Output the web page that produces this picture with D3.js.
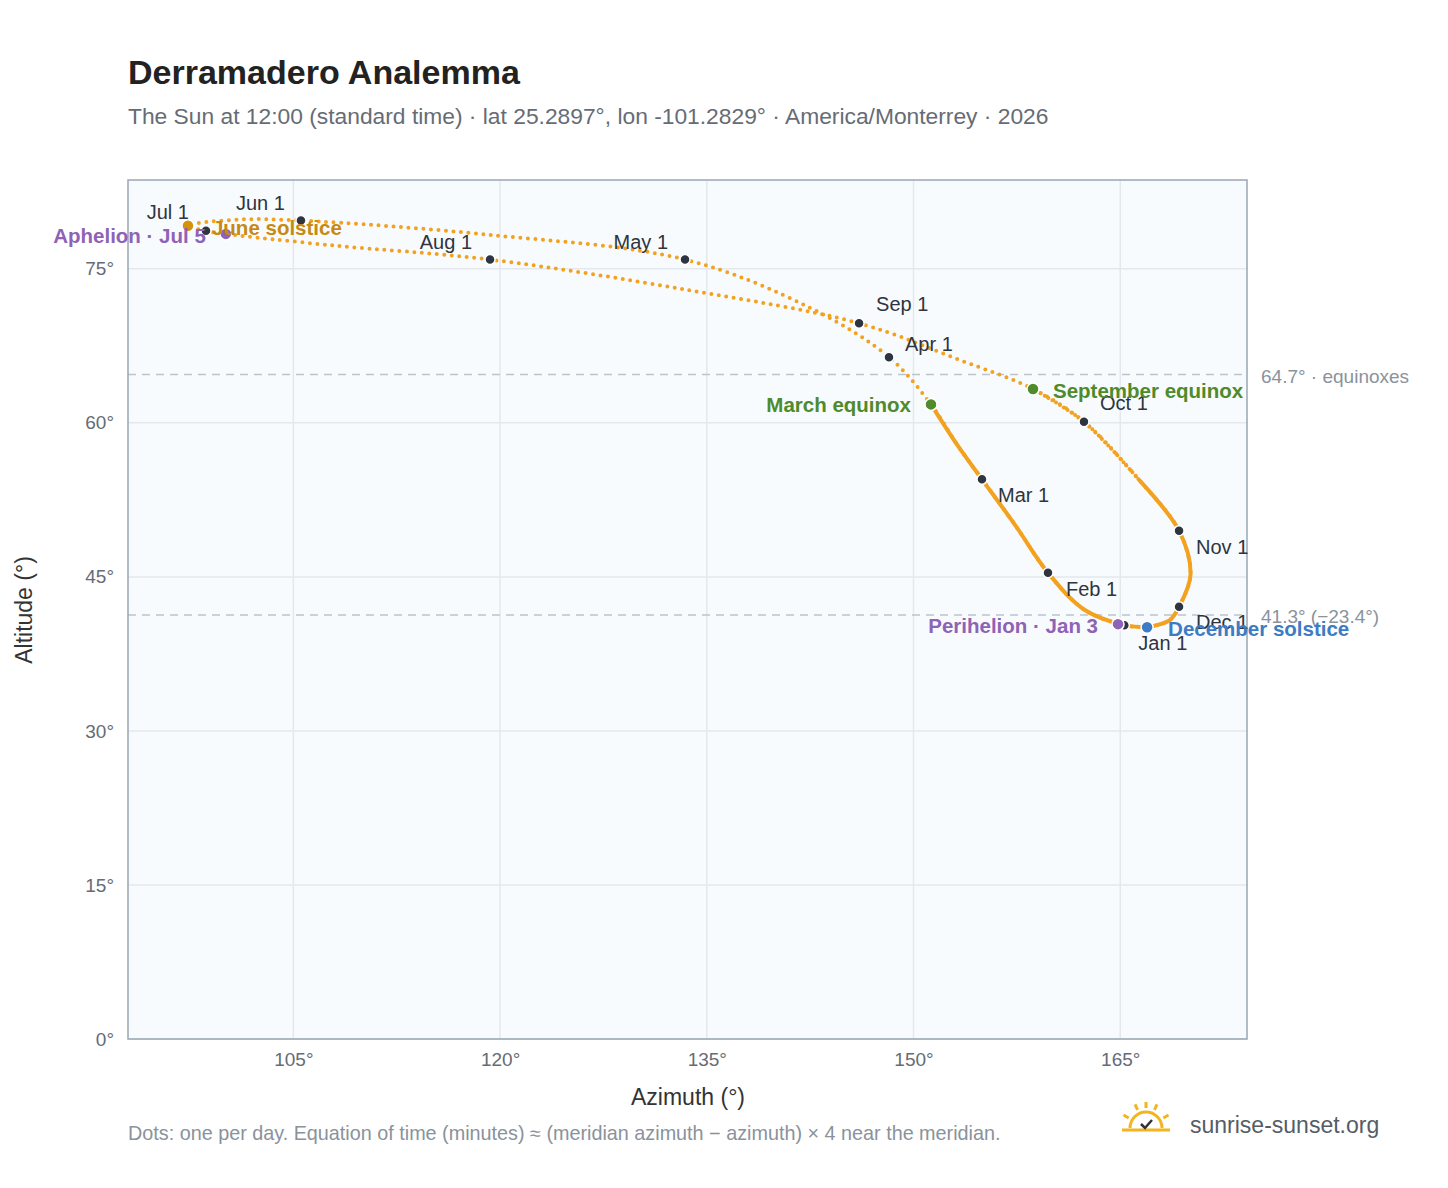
<!DOCTYPE html>
<html><head><meta charset="utf-8">
<script src="https://cdn.jsdelivr.net/npm/d3@7"></script>
<style>body{margin:0;background:#fff;font-family:"Liberation Sans",Arial,sans-serif;}</style>
</head><body><svg id="c" width="1448" height="1188"></svg>
<script>
// Path points [date, azimuth, altitude]
const pathDates = ["Dec21","Jan1","Jan15","Feb1","Feb15","Mar1","Mar10","Mar20","Apr1","Apr15","May1","May15","Jun1","Jun10","Jun21","Jul1","Jul5","Jul15","Aug1","Aug15","Sep1","Sep15","Sep22","Oct1","Oct15","Nov1","Nov15","Dec1","Dec10","Dec21b"];
const pathAz  = [166.95,165.3,162.4,159.76,157.4,154.97,153.2,151.27,148.22,142.5,133.42,119.3,105.55,101.1,97.35,98.66,100.1,107.7,119.27,133.8,146.05,153.4,158.67,162.37,166.4,169.27,170.1,169.27,168.6,166.95];
const pathAlt = [40.1,40.3,41.8,45.4,50.0,54.5,57.8,61.8,66.4,71.2,75.9,78.3,79.7,79.8,79.2,78.7,78.4,77.3,75.9,72.9,69.7,66.1,63.3,60.1,54.4,49.5,45.2,42.1,40.8,40.1];
// Month markers
const months = ["Jan 1","Feb 1","Mar 1","Apr 1","May 1","Jun 1","Jul 1","Aug 1","Sep 1","Oct 1","Nov 1","Dec 1"];
const monthAz  = [165.3,159.76,154.97,148.22,133.42,105.55,98.66,119.27,146.05,162.37,169.27,169.27];
const monthAlt = [40.3,45.4,54.5,66.4,75.9,79.7,78.7,75.9,69.7,60.1,49.5,42.1];
// Special events
const events = ["June solstice","Aphelion · Jul 5","March equinox","September equinox","Perihelion · Jan 3","December solstice"];
const eventAz  = [97.35,100.1,151.27,158.67,164.84,166.95];
const eventAlt = [79.2,78.4,61.8,63.3,40.4,40.1];
const refLines = [64.7,41.3];
const refLabels = ["64.7° · equinoxes","41.3° (−23.4°)"];
const xTicks=[105,120,135,150,165], yTicks=[0,15,30,45,60,75];

// styling / layout (not data)
const monthOff=[[14,25,"start"],[18,23,"start"],[16,23,"start"],[16,-6,"start"],[-17,-11,"end"],[-16,-11,"end"],[-17,-12,"end"],[-18,-11,"end"],[17,-12,"start"],[16,-12,"start"],[17,23,"start"],[17,22,"start"]];
const evStyle=[["#d4920f","#c68a12",24,9,"start"],["#8e63b5","#8e63b5",-20,9,"end"],["#4f8a2b","#4f8a2b",-20,8,"end"],["#4f8a2b","#4f8a2b",20,9,"start"],["#8e63b5","#8e63b5",-20,9,"end"],["#3b7cc4","#3b7cc4",21,9,"start"]];

const svg=d3.select("#c");
const L=128,R=1247,T=180,B=1039;
const x=d3.scaleLinear().domain([93,174.2]).range([L,R]);
const y=d3.scaleLinear().domain([0,83.65]).range([B,T]);
svg.append("rect").attr("x",L).attr("y",T).attr("width",R-L).attr("height",B-T).attr("fill","#f8fbfe");
const g=svg.append("g");
g.selectAll(".gx").data(xTicks).join("line").attr("x1",d=>x(d)).attr("x2",d=>x(d)).attr("y1",T).attr("y2",B).attr("stroke","#e3e8ee").attr("stroke-width",1.5);
g.selectAll(".gy").data(yTicks).join("line").attr("y1",d=>y(d)).attr("y2",d=>y(d)).attr("x1",L).attr("x2",R).attr("stroke","#e3e8ee").attr("stroke-width",1.5);
svg.selectAll(".ref").data(refLines).join("line").attr("x1",L).attr("x2",R).attr("y1",d=>y(d)).attr("y2",d=>y(d)).attr("stroke","#bcc4ce").attr("stroke-width",1.5).attr("stroke-dasharray","8 6");
svg.selectAll(".refl").data(refLines).join("text").attr("x",R+14).attr("y",d=>y(d)+8).text((d,i)=>refLabels[i]).attr("fill","#8a929c").attr("font-size",19);
svg.append("rect").attr("x",L).attr("y",T).attr("width",R-L).attr("height",B-T).attr("fill","none").attr("stroke","#9aa5b4").attr("stroke-width",1.5);

const pts=pathAz.map((a,i)=>[a,pathAlt[i]]);
const line=d3.line().x(d=>x(d[0])).y(d=>y(d[1])).curve(d3.curveCatmullRom.alpha(0.5));
svg.append("path").attr("d",line(pts)).attr("fill","none").attr("stroke","#f2a21e").attr("stroke-width",4).attr("stroke-linecap","round").attr("stroke-dasharray","0 7.5");
// dense winter section (dots overlap)
svg.append("path").attr("d",line(pts.slice(0,8))).attr("fill","none").attr("stroke","#f2a21e").attr("stroke-width",4).attr("stroke-linecap","round");
svg.append("path").attr("d",line(pts.slice(24))).attr("fill","none").attr("stroke","#f2a21e").attr("stroke-width",4).attr("stroke-linecap","round");
svg.append("path").attr("d",line(pts.slice(22,25))).attr("fill","none").attr("stroke","#f2a21e").attr("stroke-width",4).attr("stroke-linecap","round").attr("stroke-dasharray","0 4.5");

const ax=svg.append("g").attr("transform",`translate(0,${B})`).call(d3.axisBottom(x).tickValues(xTicks).tickSize(0).tickPadding(14).tickFormat(d=>d+"°"));
ax.select(".domain").remove();
ax.selectAll("text").attr("font-size",19).attr("fill","#666c75").attr("font-family","Liberation Sans, Arial");
const ay=svg.append("g").attr("transform",`translate(${L},0)`).call(d3.axisLeft(y).tickValues(yTicks).tickSize(0).tickPadding(14).tickFormat(d=>d+"°"));
ay.select(".domain").remove();
ay.selectAll("text").attr("font-size",19).attr("fill","#666c75").attr("font-family","Liberation Sans, Arial");

svg.selectAll(".md").data(months).join("circle").attr("cx",(d,i)=>x(monthAz[i])).attr("cy",(d,i)=>y(monthAlt[i])).attr("r",5).attr("fill","#2e3440").attr("stroke","#fff").attr("stroke-width",1.5);
svg.selectAll(".ml").data(months).join("text").attr("x",(d,i)=>x(monthAz[i])+monthOff[i][0]).attr("y",(d,i)=>y(monthAlt[i])+monthOff[i][1]).attr("text-anchor",(d,i)=>monthOff[i][2]).text(d=>d).attr("font-size",20).attr("fill","#2e3440");
svg.selectAll(".ed").data(events).join("circle").attr("cx",(d,i)=>x(eventAz[i])).attr("cy",(d,i)=>y(eventAlt[i])).attr("r",6).attr("fill",(d,i)=>evStyle[i][0]).attr("stroke","#fff").attr("stroke-width",1.5);
svg.selectAll(".el").data(events).join("text").attr("x",(d,i)=>x(eventAz[i])+evStyle[i][2]).attr("y",(d,i)=>y(eventAlt[i])+evStyle[i][3]).attr("text-anchor",(d,i)=>evStyle[i][4]).text(d=>d).attr("font-size",20.5).attr("font-weight","bold").attr("fill",(d,i)=>evStyle[i][1]);

svg.append("text").attr("x",128).attr("y",84).text("Derramadero Analemma").attr("font-size",34).attr("font-weight","bold").attr("fill","#222");
svg.append("text").attr("x",128).attr("y",124).text("The Sun at 12:00 (standard time) · lat 25.2897°, lon -101.2829° · America/Monterrey · 2026").attr("font-size",22.8).attr("fill","#666c75");
svg.append("text").attr("x",688).attr("y",1105).attr("text-anchor","middle").text("Azimuth (°)").attr("font-size",23).attr("fill","#333");
svg.append("text").attr("transform","translate(32,610) rotate(-90)").attr("text-anchor","middle").text("Altitude (°)").attr("font-size",23).attr("fill","#333");
svg.append("text").attr("x",128).attr("y",1140).text("Dots: one per day. Equation of time (minutes) ≈ (meridian azimuth − azimuth) × 4 near the meridian.").attr("font-size",19.8).attr("fill","#8a929c");
// logo
const lg=svg.append("g").attr("transform","translate(1146,1128)");
lg.append("path").attr("d","M-16,0 A16,16 0 0 1 16,0").attr("fill","none").attr("stroke","#f2b51e").attr("stroke-width",3);
[-150,-115,-90,-65,-30].forEach(a=>{const r=a*Math.PI/180;lg.append("line").attr("x1",20*Math.cos(r)).attr("y1",20*Math.sin(r)).attr("x2",26*Math.cos(r)).attr("y2",26*Math.sin(r)).attr("stroke","#f2b51e").attr("stroke-width",3);});
lg.append("line").attr("x1",-24).attr("x2",24).attr("y1",2).attr("y2",2).attr("stroke","#f2b51e").attr("stroke-width",3);
lg.append("path").attr("d","M-5,-4 L-1,0 L6,-8").attr("fill","none").attr("stroke","#333").attr("stroke-width",2.5);
svg.append("text").attr("x",1190).attr("y",1133).text("sunrise-sunset.org").attr("font-size",23).attr("fill","#555c66");
</script></body></html>
